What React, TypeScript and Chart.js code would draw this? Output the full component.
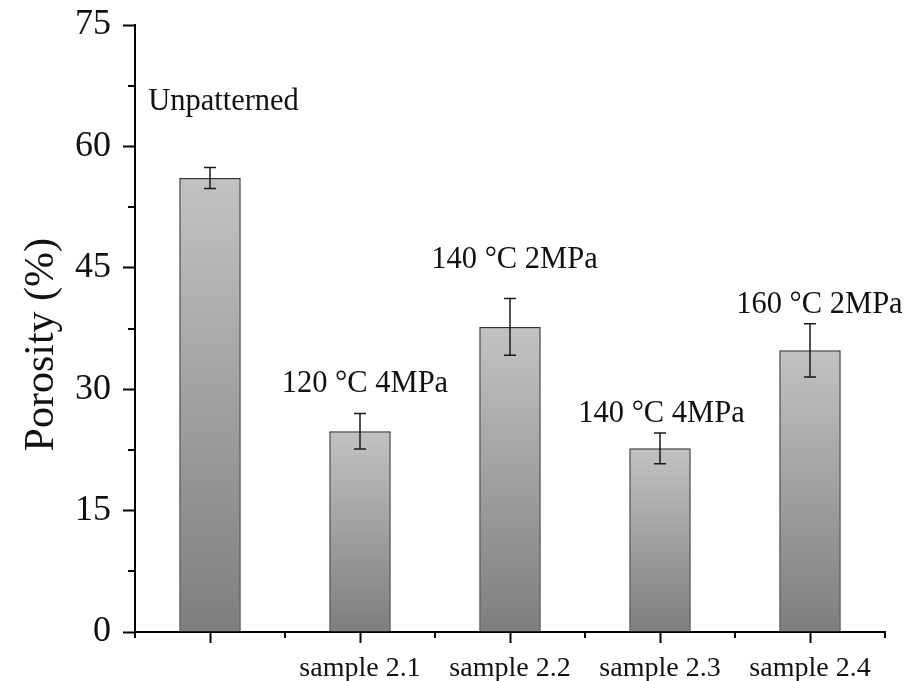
import React, { useEffect, useRef } from "react";
import { Chart, registerables } from "chart.js";

Chart.register(...registerables);

const categories = ["", "sample 2.1", "sample 2.2", "sample 2.3", "sample 2.4"];
const porosity = [56.1, 24.8, 37.7, 22.7, 34.8];
const porosityError = [1.3, 2.2, 3.5, 1.9, 3.3];
const barNotes = ["Unpatterned", "120 \u00B0C 4MPa", "140 \u00B0C 2MPa", "140 \u00B0C 4MPa", "160 \u00B0C 2MPa"];
const noteBaseline = [64.5, 29.7, 45.0, 25.9, 39.4];
const noteShift = [0.09, 0.033, 0.03, 0.01, 0.063];
const yTicks = [0, 15, 30, 45, 60, 75];
const yMinorTicks = [7.5, 22.5, 37.5, 52.5, 67.5];
const yTitle = "Porosity (%)";
const yTitleCenter = 35.5;

const SERIF = "'Liberation Serif', 'Times New Roman', serif";

const extrasPlugin = {
  id: "extras",
  afterDatasetsDraw(chart: any) {
    const ctx = chart.ctx;
    const x = chart.scales.x;
    const y = chart.scales.y;
    const meta = chart.getDatasetMeta(0);
    ctx.save();
    // error bars
    ctx.strokeStyle = "#1a1a1a";
    ctx.lineWidth = 1.5;
    meta.data.forEach((bar: any, i: number) => {
      const cx = bar.x;
      const t = y.getPixelForValue(porosity[i] + porosityError[i]);
      const b = y.getPixelForValue(porosity[i] - porosityError[i]);
      ctx.beginPath();
      ctx.moveTo(cx, t);
      ctx.lineTo(cx, b);
      ctx.moveTo(cx - 6, t);
      ctx.lineTo(cx + 6, t);
      ctx.moveTo(cx - 6, b);
      ctx.lineTo(cx + 6, b);
      ctx.stroke();
    });
    // minor ticks
    ctx.strokeStyle = "#000";
    ctx.lineWidth = 2;
    const left = chart.chartArea.left;
    const bottom = chart.chartArea.bottom;
    yMinorTicks.forEach((v) => {
      const py = Math.round(y.getPixelForValue(v));
      ctx.beginPath();
      ctx.moveTo(left - 7, py);
      ctx.lineTo(left, py);
      ctx.stroke();
    });
    const catW = (x.right - x.left) / categories.length;
    for (let i = 0; i <= categories.length; i++) {
      const px = Math.round(x.left + i * catW);
      ctx.beginPath();
      ctx.moveTo(px, bottom);
      ctx.lineTo(px, bottom + 6);
      ctx.stroke();
    }
    // notes
    ctx.fillStyle = "#111";
    ctx.font = `30.5px ${SERIF}`;
    ctx.textAlign = "center";
    ctx.textBaseline = "alphabetic";
    barNotes.forEach((txt, i) => {
      const px = x.getPixelForValue(i) + noteShift[i] * catW;
      const py = y.getPixelForValue(noteBaseline[i]);
      ctx.fillText(txt, px, py);
    });
    // y axis title
    ctx.font = `42px ${SERIF}`;
    ctx.translate(53, y.getPixelForValue(yTitleCenter));
    ctx.rotate(-Math.PI / 2);
    ctx.textAlign = "center";
    ctx.textBaseline = "alphabetic";
    ctx.fillText(yTitle, 0, 0);
    ctx.restore();
  },
};

export default function App() {
  const ref = useRef<HTMLCanvasElement | null>(null);
  useEffect(() => {
    if (!ref.current) return;
    const chart = new Chart(ref.current, {
      type: "bar",
      data: {
        labels: categories,
        datasets: [
          {
            data: porosity,
            backgroundColor: (c: any) => {
              const ch = c.chart;
              if (!ch.chartArea || c.type !== "data") return "#a0a0a0";
              const top = ch.scales.y.getPixelForValue(c.raw);
              const bot = ch.scales.y.getPixelForValue(0);
              const g = ch.ctx.createLinearGradient(0, top, 0, bot);
              g.addColorStop(0, "#c2c2c2");
              g.addColorStop(1, "#7e7e7e");
              return g;
            },
            borderColor: "#333333",
            borderWidth: 1.5,
            barPercentage: 0.41,
            categoryPercentage: 1,
          },
        ],
      },
      options: {
        responsive: false,
        animation: false,
        layout: { padding: { top: 25, right: 21, left: 0, bottom: 0 } },
        plugins: { legend: { display: false }, tooltip: { enabled: false } },
        scales: {
          x: {
            afterFit: (s: any) => {
              s.height = 49;
              s.paddingLeft = 0;
              s.paddingRight = 0;
            },
            grid: {
              offset: false,
              drawOnChartArea: false,
              drawTicks: true,
              tickLength: 11,
              tickColor: "#000",
              tickWidth: 2,
            },
            border: { display: true, color: "#000", width: 2 },
            ticks: {
              color: "#111",
              padding: 9,
              font: { family: SERIF, size: 28 },
              maxRotation: 0,
              autoSkip: false,
            },
          },
          y: {
            min: 0,
            max: 75,
            afterFit: (s: any) => {
              s.width = 135;
              s.paddingTop = 0;
              s.paddingBottom = 0;
            },
            afterBuildTicks: (s: any) => {
              s.ticks = yTicks.map((v) => ({ value: v }));
            },
            grid: {
              drawOnChartArea: false,
              drawTicks: true,
              tickLength: 12,
              tickColor: "#000",
              tickWidth: 2,
            },
            border: { display: true, color: "#000", width: 2 },
            ticks: {
              color: "#111",
              padding: 12,
              font: { family: SERIF, size: 36 },
            },
            title: { display: false },
          },
        },
      },
      plugins: [extrasPlugin],
    });
    return () => chart.destroy();
  }, []);
  return (
    <div style={{ position: "fixed", left: 0, top: 0, width: 906, height: 681, background: "#fff" }}>
      <canvas ref={ref} width={906} height={681} style={{ display: "block" }} />
    </div>
  );
}
